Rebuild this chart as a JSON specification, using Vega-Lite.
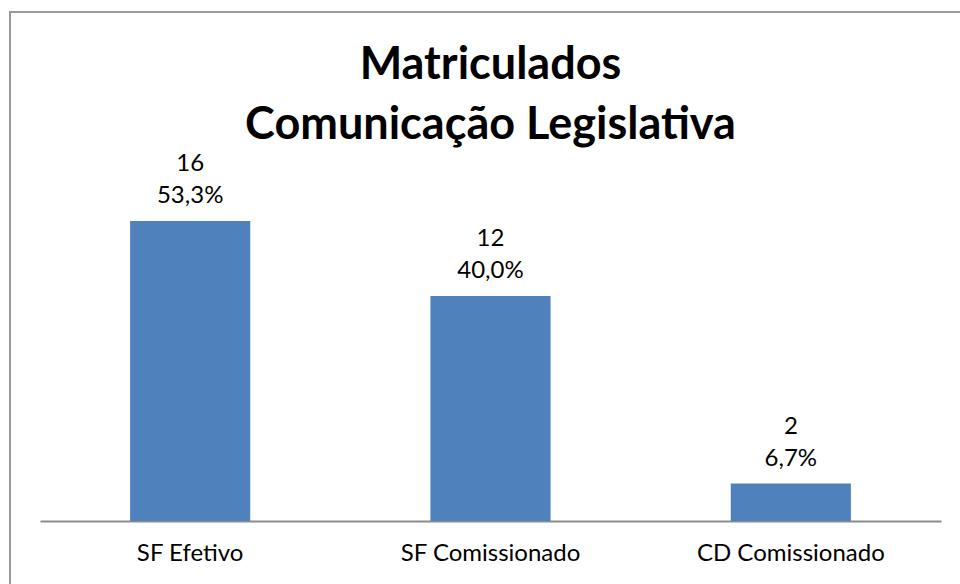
{
  "$schema": "https://vega.github.io/schema/vega-lite/v6.json",
  "autosize": "none",
  "width": 961,
  "height": 590,
  "padding": {"left": 10, "top": 12, "right": 0, "bottom": 0},
  "background": "#ffffff",
  "config": {
    "view": {"stroke": "#9a9a9a", "strokeWidth": 2},
    "font": "Lato"
  },
  "title": {
    "text": ["Matriculados", "Comunicação Legislativa"],
    "font": "Lato",
    "fontSize": 45,
    "fontWeight": "bold",
    "color": "#000000",
    "anchor": "middle",
    "frame": "group",
    "lineHeight": 60,
    "baseline": "middle",
    "offset": -158
  },
  "data": {
    "values": [
      {"categoria": "SF Efetivo", "matriculados": 16, "rotulo": "16\n53,3%"},
      {"categoria": "SF Comissionado", "matriculados": 12, "rotulo": "12\n40,0%"},
      {"categoria": "CD Comissionado", "matriculados": 2, "rotulo": "2\n6,7%"}
    ]
  },
  "encoding": {
    "x": {
      "field": "categoria",
      "type": "nominal",
      "sort": null,
      "scale": {"range": [30, 931], "paddingInner": 0.6, "paddingOuter": 0.3},
      "axis": {
        "title": null,
        "labelAngle": 0,
        "labelFont": "Lato",
        "labelFontSize": 24,
        "labelColor": "#000000",
        "labelPadding": 20,
        "labelLimit": 0,
        "ticks": false,
        "domainColor": "#8c8c8c",
        "domainWidth": 2,
        "offset": -81
      }
    },
    "y": {
      "field": "matriculados",
      "type": "quantitative",
      "scale": {"domain": [0, 20], "range": [509, 134]},
      "axis": null
    }
  },
  "layer": [
    {"mark": {"type": "bar", "color": "#4F81BD"}},
    {
      "mark": {"type": "text", "baseline": "bottom", "dy": -45, "fontSize": 24, "font": "Lato", "color": "#000000", "lineBreak": "\n", "lineHeight": 32},
      "encoding": {"text": {"field": "rotulo"}}
    }
  ]
}
